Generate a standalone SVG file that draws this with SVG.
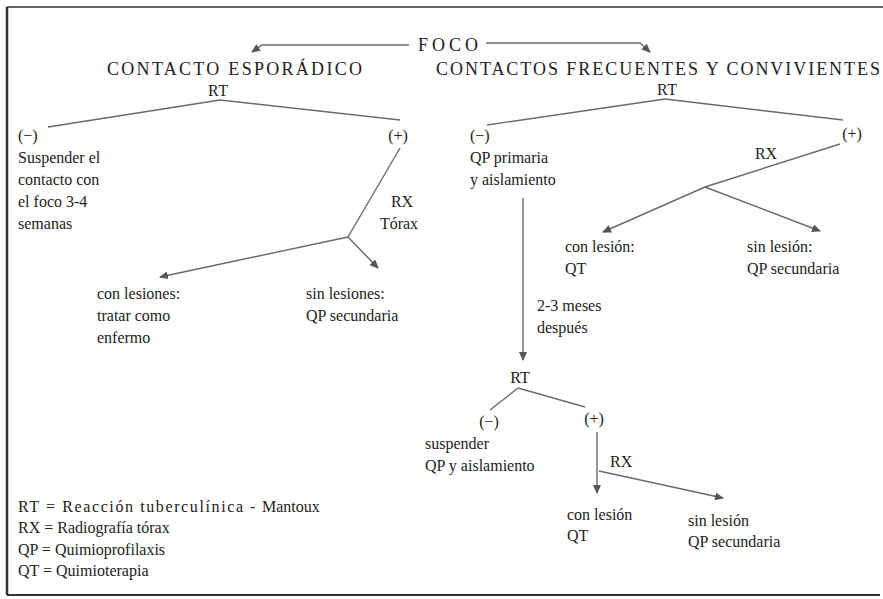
<svg xmlns="http://www.w3.org/2000/svg" width="883" height="599" viewBox="0 0 883 599">
<style>
text{font-family:"Liberation Serif","Times New Roman",serif;font-size:16px;fill:#222}
.cap{font-size:18px}
.mid{text-anchor:middle}
.ln{stroke:#6a6a6a;stroke-width:1.4;fill:none}
.arr{stroke:#6a6a6a;stroke-width:1.4;fill:none;marker-end:url(#ah)}
.frame{stroke:#333;fill:none}
</style>
<defs>
<marker id="ah" markerWidth="9" markerHeight="8" refX="8" refY="4" orient="auto" markerUnits="userSpaceOnUse">
<path d="M0,0 L9,4 L0,8 Z" fill="#555"/>
</marker>
</defs>
<rect width="883" height="599" fill="#fff"/>
<g id="frame">
<line class="frame" x1="7" y1="7" x2="883" y2="7" stroke-width="1.5"/>
<line class="frame" x1="7" y1="7" x2="7" y2="595" stroke-width="2.5"/>
<line class="frame" x1="7" y1="595" x2="880" y2="595" stroke-width="2"/>
</g>
<g id="connectors">
<path class="arr" d="M409,45 L262,45 L252,52"/>
<path class="arr" d="M486,43 L640,43 L650,52"/>
<line class="ln" x1="220" y1="100" x2="48" y2="127"/>
<line class="ln" x1="220" y1="100" x2="400" y2="120"/>
<line class="ln" x1="400" y1="148" x2="348" y2="237"/>
<path class="arr" d="M348,237 L160,277"/>
<path class="arr" d="M348,237 L378,268"/>
<line class="ln" x1="665" y1="99" x2="487" y2="125"/>
<line class="ln" x1="665" y1="99" x2="843" y2="120"/>
<path class="arr" d="M840,144 L705,187 L603,232"/>
<path class="arr" d="M705,187 L820,231"/>
<path class="arr" d="M523,198 L523,360"/>
<line class="ln" x1="518" y1="388" x2="490" y2="410"/>
<line class="ln" x1="518" y1="388" x2="585" y2="407"/>
<path class="arr" d="M597,432 L597,493"/>
<path class="arr" d="M599,471 L723,498"/>
</g>
<g id="foco"><text x="418" y="51" class="cap" textLength="60" lengthAdjust="spacing">FOCO</text></g>
<g id="esporadico">
<text x="107" y="75" class="cap" textLength="255" lengthAdjust="spacing">CONTACTO ESPORÁDICO</text>
<text x="208" y="96" textLength="20" lengthAdjust="spacing">RT</text>
</g>
<g id="esp-neg">
<text x="18" y="141">(−)</text>
<text x="18" y="163">Suspender el</text>
<text x="18" y="185">contacto con</text>
<text x="18" y="207">el foco 3-4</text>
<text x="18" y="229">semanas</text>
</g>
<g id="esp-pos">
<text x="398" y="141" class="mid">(+)</text>
<text x="402" y="207" class="mid">RX</text>
<text x="399" y="229" class="mid">Tórax</text>
</g>
<g id="esp-con">
<text x="97" y="299">con lesiones:</text>
<text x="97" y="321">tratar como</text>
<text x="97" y="343">enfermo</text>
</g>
<g id="esp-sin">
<text x="306" y="299">sin lesiones:</text>
<text x="306" y="321">QP secundaria</text>
</g>
<g id="frecuentes">
<text x="436" y="75" class="cap" textLength="444" lengthAdjust="spacing">CONTACTOS FRECUENTES Y CONVIVIENTES</text>
<text x="657" y="95" textLength="20" lengthAdjust="spacing">RT</text>
</g>
<g id="frec-neg">
<text x="470" y="141">(−)</text>
<text x="470" y="163">QP primaria</text>
<text x="470" y="185">y aislamiento</text>
</g>
<g id="frec-pos">
<text x="852" y="139" class="mid">(+)</text>
<text x="766" y="159" class="mid">RX</text>
</g>
<g id="frec-con">
<text x="565" y="252">con lesión:</text>
<text x="565" y="274">QT</text>
</g>
<g id="frec-sin">
<text x="747" y="252">sin lesión:</text>
<text x="747" y="274">QP secundaria</text>
</g>
<g id="meses">
<text x="537" y="311">2-3 meses</text>
<text x="537" y="333">después</text>
</g>
<g id="rt2"><text x="520" y="383" class="mid">RT</text></g>
<g id="rt2-neg">
<text x="489" y="427" class="mid">(−)</text>
<text x="425" y="449">suspender</text>
<text x="425" y="471">QP y aislamiento</text>
</g>
<g id="rt2-pos">
<text x="594" y="424" class="mid">(+)</text>
<text x="610" y="467">RX</text>
</g>
<g id="rt2-con">
<text x="567" y="520">con lesión</text>
<text x="567" y="541">QT</text>
</g>
<g id="rt2-sin">
<text x="688" y="526">sin lesión</text>
<text x="688" y="547">QP secundaria</text>
</g>
<g id="legend">
<text x="18" y="512" textLength="225" lengthAdjust="spacing">RT = Reacción tuberculínica</text>
<text x="250" y="512">-</text>
<text x="262" y="512">Mantoux</text>
<text x="18" y="533">RX = Radiografía tórax</text>
<text x="18" y="555">QP = Quimioprofilaxis</text>
<text x="18" y="576">QT = Quimioterapia</text>
</g>
</svg>
